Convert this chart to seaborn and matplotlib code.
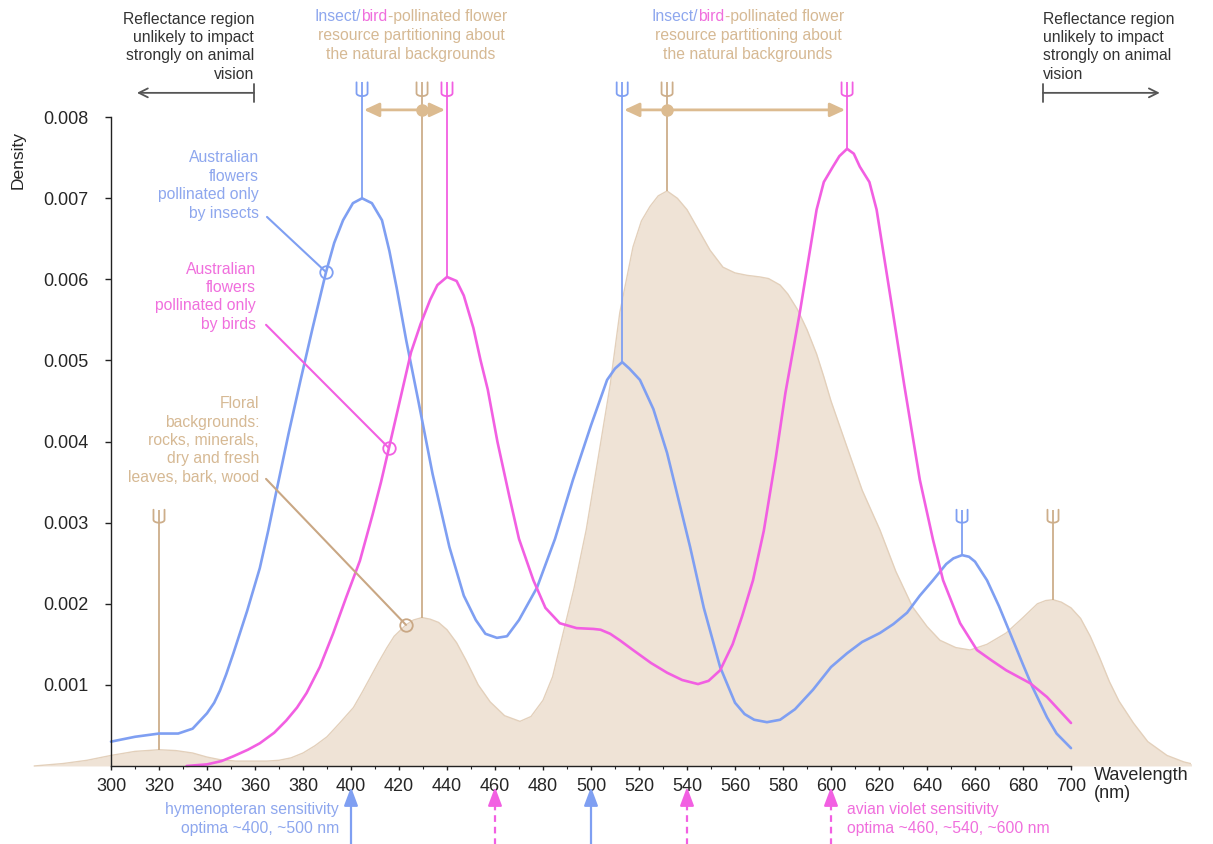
import numpy as np
import matplotlib
matplotlib.use("Agg")
import matplotlib.pyplot as plt
import seaborn as sns

sns.set_theme(style="ticks")
plt.rcParams["font.family"] = ["Liberation Sans", "DejaVu Sans"]

# ---------------------------------------------------------------- data
insect_nm = [300, 310, 320, 328, 334, 340, 343, 345.4, 348, 351, 356.7, 362, 365.5, 369,
             374, 379, 384, 389.6, 393, 396.7, 400.8, 404.6, 408.7, 412.9, 416, 419, 423,
             428, 434, 441, 447, 452, 456, 460.8, 465, 470, 477.5, 485, 492.5, 500, 506.7,
             510, 513, 516, 520.4, 526, 531.7, 537, 541.3, 547, 553.8, 560, 564, 568, 573.3,
             578.8, 585, 592.5, 600, 606.7, 613, 620.4, 626, 631.7, 637, 642.5, 648, 651,
             654.6, 657.5, 660, 665, 670, 674.6, 680, 684, 690, 694, 700]
insect_density = [0.0003, 0.00036, 0.0004, 0.0004, 0.00046, 0.00065, 0.00078, 0.00093,
                  0.00113, 0.00139, 0.00191, 0.00244, 0.0029, 0.0034, 0.0041, 0.00476,
                  0.0054, 0.00609, 0.00645, 0.00673, 0.00694, 0.0070, 0.00694, 0.00673,
                  0.00635, 0.0059, 0.00525, 0.00451, 0.0036, 0.0027, 0.0021, 0.0018, 0.00163,
                  0.00158, 0.0016, 0.0018, 0.0022, 0.0028, 0.00353, 0.0042, 0.00476, 0.0049,
                  0.00498, 0.0049, 0.00476, 0.0044, 0.00386, 0.00322, 0.0027, 0.00195,
                  0.00122, 0.00078, 0.00064, 0.00057, 0.00054, 0.00057, 0.0007, 0.00094,
                  0.00122, 0.00139, 0.00153, 0.00164, 0.00175, 0.00189, 0.0021, 0.00229,
                  0.00249, 0.00256, 0.0026, 0.00258, 0.00252, 0.00229, 0.00197, 0.00164,
                  0.00125, 0.00097, 0.0006, 0.0004, 0.00022]

bird_nm = [331.5, 340, 346, 351, 357, 362, 368, 373, 377.5, 381.5, 387, 392.5, 398, 403.7,
           409, 412.5, 415.8, 420.4, 425, 429, 433, 436, 440, 444, 447, 451, 454, 457, 461,
           466, 470, 476, 481, 487, 494, 501, 504, 508, 512, 517.5, 525, 531.7, 538, 544.6,
           549, 553.8, 559, 563, 567.5, 572, 577, 581, 587, 594, 597, 600.8, 603.5, 606.7,
           609.5, 612, 616, 619, 625.8, 630.5, 637, 642.5, 646.7, 653.8, 660.8, 667, 673,
           683, 690, 700]
bird_density = [0.0, 0.00002, 0.00006, 0.00012, 0.0002, 0.00028, 0.00041, 0.00056, 0.00072,
                0.0009, 0.00122, 0.00163, 0.00208, 0.00253, 0.0031, 0.0035, 0.00392, 0.00451,
                0.0051, 0.00545, 0.00575, 0.00593, 0.00603, 0.00598, 0.0058, 0.0054, 0.005,
                0.00464, 0.004, 0.00332, 0.0028, 0.00229, 0.00195, 0.00176, 0.0017, 0.00169,
                0.00168, 0.00163, 0.00155, 0.00143, 0.00127, 0.00115, 0.00106, 0.00101,
                0.00105, 0.00118, 0.0015, 0.00185, 0.00229, 0.0029, 0.0038, 0.0046, 0.00559,
                0.00686, 0.0072, 0.00739, 0.00752, 0.00761, 0.00755, 0.00739, 0.0072,
                0.00686, 0.00559, 0.0047, 0.00353, 0.00279, 0.00229, 0.00176, 0.00143,
                0.0013, 0.00118, 0.00102, 0.00085, 0.00053]

background_nm = [268, 280, 290, 300, 310, 320, 327, 334, 340, 345, 352, 359, 365, 370, 375,
                 380, 385, 390, 395, 401, 404.5, 408, 411.5, 415, 418, 422.9, 426, 429.6, 433,
                 436.5, 440, 444, 448, 453, 458, 464, 470.4, 475, 480, 484, 488, 493, 498,
                 503, 508, 512, 517.5, 521, 524.6, 528, 531.7, 536, 540, 545, 549.6, 555, 560,
                 565, 570.4, 574, 578.8, 582, 586, 590, 594, 597, 600, 606.7, 613, 620.4, 627,
                 634, 640, 645.4, 652, 658, 665, 673, 680, 686, 689.5, 692.5, 696, 700, 704,
                 708, 712, 716, 720, 726, 732, 740, 747, 754]
background_density = [0.0, 0.00003, 0.00007, 0.00013, 0.00018, 0.0002, 0.00019, 0.00016,
                      0.00011, 0.00008, 0.00006, 0.00006, 0.00006, 0.00007, 0.0001, 0.00016,
                      0.00025, 0.00036, 0.00052, 0.00072, 0.0009, 0.00109, 0.00128, 0.00146,
                      0.0016, 0.00174, 0.0018, 0.00183, 0.00181, 0.00177, 0.00168, 0.00152,
                      0.0013, 0.001, 0.00079, 0.00062, 0.00055, 0.00061, 0.00081, 0.0011,
                      0.00159, 0.0022, 0.00291, 0.0038, 0.0047, 0.00559, 0.0064, 0.00672,
                      0.0069, 0.00703, 0.00709, 0.007, 0.00686, 0.0066, 0.00636, 0.00615,
                      0.00608, 0.00605, 0.00603, 0.00601, 0.00593, 0.00582, 0.00563, 0.00538,
                      0.00508, 0.0048, 0.0045, 0.00393, 0.0034, 0.00291, 0.0024, 0.00196,
                      0.00172, 0.00155, 0.00146, 0.00143, 0.0015, 0.00164, 0.00183, 0.002,
                      0.00204, 0.00205, 0.00202, 0.00195, 0.00182, 0.0016, 0.00133, 0.00104,
                      0.0008, 0.00053, 0.0003, 0.00013, 0.00005, 0.0]

insect_peaks = [404.6, 513, 654.6]
bird_peaks = [440, 606.7]
background_peaks = [320, 429.6, 531.7, 692.5]
insect_label_at, bird_label_at, background_label_at = 389.6, 415.8, 422.9

hymenopteran_optima = [400, 500]
avian_optima = [460, 540, 600]

x_ticks = list(range(300, 701, 20))
y_ticks = [0.001, 0.002, 0.003, 0.004, 0.005, 0.006, 0.007, 0.008]

# ---------------------------------------------------------------- style
BLUE, BLUE_TXT = "#7f9ff2", "#8ea7ee"
PINK, PINK_TXT = "#f25fe2", "#f06fdd"
TAN_FILL, TAN_EDGE = "#efe3d6", "#e3d0bb"
TAN_LINE, TAN_TXT, TAN_ARROW = "#cdae8a", "#d6b994", "#dcbb90"
GREY = "#555555"
FS = 11.3
LS = 1.28


def value_at(xs, ys, x):
    return ys[xs.index(x)]


fig = plt.figure(figsize=(12.13, 8.44), dpi=100)
ax = fig.add_axes([27 / 1213, 0, 1164 / 1213, 1])
ax.set_xlim(265, 750)
ax.set_ylim(-0.000962, 0.009445)

# floral background distribution
ax.fill_between(background_nm, background_density, color=TAN_FILL, lw=0, zorder=1)
sns.lineplot(x=background_nm, y=background_density, ax=ax, color=TAN_EDGE, lw=1.0,
             zorder=2, estimator=None)

# pollinator-specific flower distributions
sns.lineplot(x=insect_nm, y=insect_density, ax=ax, color=BLUE, lw=1.9, zorder=5,
             estimator=None)
sns.lineplot(x=bird_nm, y=bird_density, ax=ax, color=PINK, lw=1.9, zorder=5,
             estimator=None)

# ---------------------------------------------------------------- axes
for s in ("top", "right"):
    ax.spines[s].set_visible(False)
ax.spines["left"].set_position(("data", 300))
ax.spines["left"].set_bounds(0, 0.008)
ax.spines["bottom"].set_position(("data", 0))
ax.spines["bottom"].set_bounds(300, 700)
for s in ("left", "bottom"):
    ax.spines[s].set_color("#222222")
    ax.spines[s].set_linewidth(1.0)
    ax.spines[s].set_zorder(6)

ax.set_xticks(x_ticks)
ax.set_xticklabels([str(v) for v in x_ticks])
ax.set_xticks(list(range(310, 700, 20)), minor=True)
ax.set_yticks(y_ticks)
ax.set_yticklabels([f"{v:.3f}" for v in y_ticks])
ax.tick_params(axis="x", which="major", direction="inout", length=6, width=1.0,
               color="#222222", labelsize=13, pad=6)
ax.tick_params(axis="x", which="minor", direction="inout", length=4, width=0.8,
               color="#222222")
ax.tick_params(axis="y", direction="out", length=4, width=1.0, color="#222222",
               labelsize=13, pad=12)
ax.set_xlabel("")
ax.set_ylabel("")
ax.grid(False)

fig.text(18 / 1213, 1 - 160 / 844, "Density", rotation=90, ha="center", va="center",
         fontsize=12.5)
ax.text(709.6, -0.00001, "Wavelength\n(nm)", ha="left", va="top", fontsize=13,
        linespacing=1.1)

# ---------------------------------------------------------------- peak tridents
TOP_HI, BOT_HI = 0.00843, 0.00826
TOP_LO, BOT_LO = 0.00316, 0.00300


def trident(x, base, top, bottom, color):
    ax.plot([x, x], [base, top], color=color, lw=1.3, zorder=4, solid_capstyle="butt")
    w, ry = 2.3, 0.000035
    t = np.linspace(np.pi, 2 * np.pi, 20)
    ux = np.concatenate([[x - w], x + w * np.cos(t), [x + w]])
    uy = np.concatenate([[top], bottom + ry + ry * np.sin(t), [top]])
    ax.plot(ux, uy, color=color, lw=1.3, zorder=4)


for p in insect_peaks:
    lo = p > 600
    trident(p, value_at(insect_nm, insect_density, p), TOP_LO if lo else TOP_HI,
            BOT_LO if lo else BOT_HI, BLUE)
for p in bird_peaks:
    trident(p, value_at(bird_nm, bird_density, p), TOP_HI, BOT_HI, PINK)
for p in background_peaks:
    lo = p < 350 or p > 600
    trident(p, value_at(background_nm, background_density, p), TOP_LO if lo else TOP_HI,
            BOT_LO if lo else BOT_HI, TAN_LINE)

# resource-partitioning arrows about the background peaks
ARROW_Y = 0.00809
for bg, ins, brd in [(429.6, 404.6, 440), (531.7, 513, 606.7)]:
    for tip in (ins, brd):
        ax.annotate("", xy=(tip + (0.8 if tip < bg else -0.8), ARROW_Y), xytext=(bg, ARROW_Y),
                    arrowprops=dict(arrowstyle="-|>,head_length=0.65,head_width=0.3",
                                    color=TAN_ARROW, lw=2.0, shrinkA=0, shrinkB=0,
                                    mutation_scale=14), zorder=7)
    ax.plot([bg], [ARROW_Y], "o", ms=8, color=TAN_ARROW, zorder=8)

# ---------------------------------------------------------------- titles
r = fig.canvas.get_renderer()
LINE = 19 / 81100


def centered_colored_line(xc, y, pieces):
    texts = [ax.text(0, y, s, color=c, ha="left", va="top", fontsize=FS) for s, c in pieces]
    widths = [t.get_window_extent(r).width for t in texts]
    x0 = ax.transData.transform((xc, y))[0] - sum(widths) / 2
    inv = ax.transData.inverted()
    for t, w in zip(texts, widths):
        t.set_x(inv.transform((x0, 0))[0])
        x0 += w


for xc in (425, 565.4):
    top = 0.00933
    centered_colored_line(xc, top, [("Insect/", BLUE_TXT), ("bird", PINK_TXT),
                                    ("-pollinated flower", TAN_TXT)])
    ax.text(xc, top - LINE, "resource partitioning about\nthe natural backgrounds",
            color=TAN_TXT, ha="center", va="top", fontsize=FS, linespacing=LS)

region_text = "Reflectance region\nunlikely to impact\nstrongly on animal\nvision"
ax.text(359.6, 0.0093, region_text, ha="right", va="top", fontsize=FS, color="#333333",
        linespacing=LS)
ax.text(688.3, 0.0093, region_text, ha="left", va="top", fontsize=FS, color="#333333",
        linespacing=LS)
for start, end in [(359.6, 310.8), (688.3, 737.0)]:
    ax.annotate("", xy=(end, 0.0083), xytext=(start, 0.0083),
                arrowprops=dict(arrowstyle="]->,widthA=0.4,lengthA=0",
                                color=GREY, lw=1.3, shrinkA=0, shrinkB=0, mutation_scale=16))

# ---------------------------------------------------------------- series labels
labels = [
    ("Australian\nflowers\npollinated only\nby insects", BLUE_TXT, BLUE, 361.7, 0.00759,
     (365.0, 0.00677), insect_label_at, insect_nm, insect_density),
    ("Australian\nflowers\npollinated only\nby birds", PINK_TXT, PINK, 360.4, 0.00622,
     (364.6, 0.00544), bird_label_at, bird_nm, bird_density),
    ("Floral\nbackgrounds:\nrocks, minerals,\ndry and fresh\nleaves, bark, wood", TAN_TXT,
     "#c9a784", 361.7, 0.00456, (364.6, 0.00354), background_label_at, background_nm,
     background_density),
]
for text, tc, lc, tx, ty, start, at, xs, ys in labels:
    ax.text(tx, ty, text, ha="right", va="top", fontsize=FS, color=tc, linespacing=LS)
    yv = value_at(xs, ys, at)
    ax.plot([start[0], at], [start[1], yv], color=lc, lw=1.5, zorder=6)
    ax.plot([at], [yv], "o", ms=9, mfc="none", mec=lc, mew=1.3, zorder=7)

# ---------------------------------------------------------------- sensitivity optima
ARROW_BOTTOM, ARROW_TIP = -0.00097, -0.00026
for x in hymenopteran_optima:
    ax.annotate("", xy=(x, ARROW_TIP), xytext=(x, ARROW_BOTTOM), annotation_clip=False,
                arrowprops=dict(arrowstyle="-|>,head_length=0.8,head_width=0.3", color=BLUE,
                                lw=1.6, shrinkA=0, shrinkB=0, mutation_scale=14))
for x in avian_optima:
    ax.plot([x, x], [ARROW_BOTTOM, ARROW_TIP - 0.0001], color=PINK, lw=1.6,
            ls=(0, (3, 2.2)), clip_on=False)
    ax.annotate("", xy=(x, ARROW_TIP), xytext=(x, ARROW_TIP - 0.00012),
                annotation_clip=False,
                arrowprops=dict(arrowstyle="-|>,head_length=0.8,head_width=0.3", color=PINK,
                                lw=1.6, shrinkA=0, shrinkB=0, mutation_scale=14))

ax.text(395.0, -0.00044, "hymenopteran sensitivity\noptima ~400, ~500 nm", ha="right",
        va="top", fontsize=FS, color=BLUE_TXT, linespacing=1.4)
ax.text(606.7, -0.00044, "avian violet sensitivity\noptima ~460, ~540, ~600 nm", ha="left",
        va="top", fontsize=FS, color=PINK_TXT, linespacing=1.4)

fig.savefig("out.png", dpi=100, facecolor="white")
